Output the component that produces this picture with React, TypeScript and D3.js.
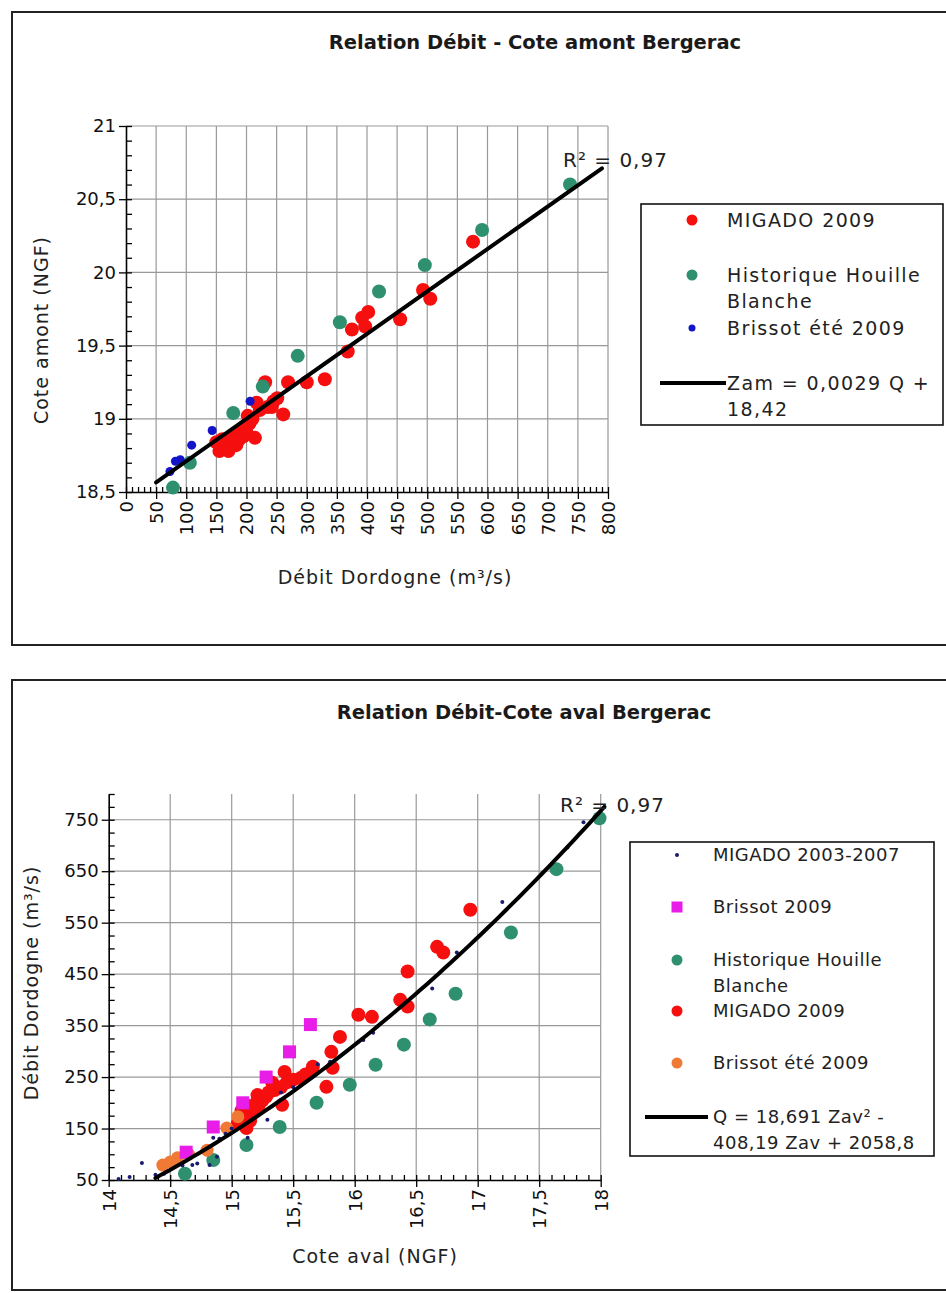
import React, { useEffect, useRef } from 'react';
import * as d3 from 'd3';

// ---- graphique 1 : Débit Dordogne (m3/s) -> Cote amont (NGF)
const amontMigado2009: [number, number][] = [
  [576, 20.21], [493, 19.88], [505, 19.82], [455, 19.68], [402, 19.73], [392, 19.69],
  [397, 19.63], [375, 19.61], [368, 19.46], [330, 19.27], [300, 19.25], [269, 19.25],
  [231, 19.25], [261, 19.03], [251, 19.14], [242, 19.08], [217, 19.11], [214, 18.87],
  [155, 18.78], [158, 18.82], [162, 18.8], [165, 18.85], [168, 18.83], [172, 18.8],
  [175, 18.86], [178, 18.84], [180, 18.88], [183, 18.82], [186, 18.9], [188, 18.86],
  [192, 18.92], [195, 18.88], [198, 18.95], [200, 18.91], [205, 18.97], [210, 19.0],
  [170, 18.78], [160, 18.86], [185, 18.85], [202, 19.02], [222, 19.06], [235, 19.08],
  [245, 19.12], [150, 18.84],
];
const amontHistorique: [number, number][] = [
  [737, 20.6], [591, 20.29], [496, 20.05], [420, 19.87], [355, 19.66], [285, 19.43],
  [227, 19.22], [178, 19.04], [106, 18.7], [78, 18.53],
];
const amontBrissotEte: [number, number][] = [
  [206, 19.12], [143, 18.92], [109, 18.82], [90, 18.72], [82, 18.71], [73, 18.64],
];
const amontXTicks = [0, 50, 100, 150, 200, 250, 300, 350, 400, 450, 500, 550, 600, 650, 700, 750, 800];
const amontYTicks = [18.5, 19, 19.5, 20, 20.5, 21];
const amontFit = { a: 0.0029, b: 18.42, from: 50, to: 790 };

// ---- graphique 2 : Cote aval (NGF) -> Débit Dordogne (m3/s)
const avalMigado0307: [number, number][] = [
  [14.08, 52], [14.17, 56], [14.27, 83], [14.38, 60], [14.45, 62], [14.68, 79], [14.72, 82],
  [14.82, 79], [14.88, 95], [14.85, 132], [14.9, 130], [14.95, 140], [15.13, 132], [15.29, 167],
  [15.5, 230], [15.7, 275], [16.07, 322], [16.15, 336], [16.63, 422], [16.83, 492], [17.2, 590],
  [17.73, 696], [17.86, 745], [14.6, 78], [15.0, 150], [15.4, 220], [15.8, 280],
];
const avalBrissot2009: [number, number][] = [
  [15.64, 352], [15.47, 299], [15.28, 250], [15.09, 200], [14.85, 153], [14.63, 104],
];
const avalHistorique: [number, number][] = [
  [17.99, 753], [17.64, 654], [17.27, 531], [16.82, 412], [16.61, 362], [16.4, 313],
  [16.17, 274], [15.96, 235], [15.69, 200], [15.39, 153], [15.12, 118], [14.85, 89], [14.62, 62],
];
const avalMigado2009: [number, number][] = [
  [16.94, 575], [16.67, 503], [16.72, 492], [16.43, 455], [16.37, 400], [16.43, 387],
  [16.03, 371], [16.14, 367], [15.88, 328], [15.81, 299], [15.66, 270], [15.56, 248],
  [15.43, 260], [15.82, 268], [15.77, 231], [15.33, 239], [15.41, 196], [15.21, 215],
  [15.12, 151], [15.1, 173], [15.05, 160], [15.08, 168], [15.1, 180], [15.13, 175],
  [15.15, 190], [15.18, 185], [15.2, 200], [15.22, 195], [15.25, 205], [15.28, 212],
  [15.3, 220], [15.35, 225], [15.4, 230], [15.45, 240], [15.5, 245], [15.15, 165],
  [15.08, 185], [15.12, 195], [15.6, 255], [15.65, 262],
];
const avalBrissotEte: [number, number][] = [
  [14.44, 79], [14.56, 93], [14.8, 108], [14.96, 151], [15.05, 173], [14.5, 85], [14.65, 100],
];
const avalXTicks = [14, 14.5, 15, 15.5, 16, 16.5, 17, 17.5, 18];
const avalYTicks = [50, 150, 250, 350, 450, 550, 650, 750];
const avalFit = { a: 18.691, b: -408.19, c: 2058.8, from: 14.38, to: 18.05 };

const FONT = 'DejaVu Sans';
const fmt = (v: number) => String(v).replace('.', ',');

function drawPanel(svg: any, cfg: any) {
  const g = svg.append('g');

  g.append('rect')
    .attr('x', cfg.frame[0]).attr('y', cfg.frame[1])
    .attr('width', cfg.frame[2]).attr('height', cfg.frame[3])
    .attr('fill', 'white').attr('stroke', '#222').attr('stroke-width', 2);

  g.append('text')
    .attr('x', cfg.titlePos[0]).attr('y', cfg.titlePos[1])
    .attr('text-anchor', 'middle')
    .attr('font-family', FONT).attr('font-weight', 'bold').attr('font-size', 19.5)
    .attr('fill', '#1a1a1a')
    .text(cfg.title);

  const x = d3.scaleLinear().domain(cfg.xDomain).range([cfg.left, cfg.right]);
  const y = d3.scaleLinear().domain(cfg.yDomain).range([cfg.bottom, cfg.top]);

  // grille
  g.append('g').selectAll('line').data(cfg.xTicks.slice(1)).join('line')
    .attr('x1', (d: number) => x(d)).attr('x2', (d: number) => x(d))
    .attr('y1', cfg.bottom).attr('y2', cfg.top)
    .attr('stroke', '#999').attr('stroke-width', 1.2);
  g.append('g').selectAll('line').data(cfg.yTicks.slice(1)).join('line')
    .attr('x1', cfg.left).attr('x2', cfg.right)
    .attr('y1', (d: number) => y(d)).attr('y2', (d: number) => y(d))
    .attr('stroke', '#999').attr('stroke-width', 1.2);

  // axes : petites graduations vers l'intérieur
  g.append('g').attr('transform', `translate(0,${cfg.bottom})`)
    .call(d3.axisBottom(x).tickValues(cfg.xMinor).tickSize(-5).tickSizeOuter(0).tickFormat(() => ''))
    .call((s: any) => s.select('.domain').remove());
  g.append('g').attr('transform', `translate(${cfg.left},0)`)
    .call(d3.axisLeft(y).tickValues(cfg.yMinor).tickSize(-6).tickSizeOuter(0).tickFormat(() => ''))
    .call((s: any) => s.select('.domain').remove());

  const xa = g.append('g').attr('transform', `translate(0,${cfg.bottom})`)
    .call(d3.axisBottom(x).tickValues(cfg.xTicks).tickSize(7).tickSizeOuter(0).tickFormat(fmt));
  xa.selectAll('text')
    .attr('transform', 'rotate(-90)').attr('text-anchor', 'end')
    .attr('x', -9).attr('y', 0).attr('dy', '0.36em')
    .attr('font-family', FONT).attr('font-size', 18).attr('fill', '#111');

  const ya = g.append('g').attr('transform', `translate(${cfg.left},0)`)
    .call(d3.axisLeft(y).tickValues(cfg.yTicks).tickSize(7).tickSizeOuter(0).tickFormat(fmt));
  ya.selectAll('text')
    .attr('x', -10)
    .attr('font-family', FONT).attr('font-size', 18).attr('fill', '#111');

  [xa, ya].forEach((a: any) => {
    a.select('.domain').attr('stroke', '#000').attr('stroke-width', 1.6);
  });
  g.selectAll('.tick line').attr('stroke', '#000').attr('stroke-width', 1.3);

  // titres des axes
  g.append('text')
    .attr('x', cfg.xLabelPos[0]).attr('y', cfg.xLabelPos[1])
    .attr('text-anchor', 'middle').attr('font-family', FONT).attr('font-size', 19)
    .attr('letter-spacing', 1).attr('fill', '#222')
    .text(cfg.xLabel);
  g.append('text')
    .attr('transform', `translate(${cfg.yLabelPos[0]},${cfg.yLabelPos[1]}) rotate(-90)`)
    .attr('text-anchor', 'middle').attr('font-family', FONT).attr('font-size', 19)
    .attr('letter-spacing', 1).attr('fill', '#222')
    .text(cfg.yLabel);

  // séries
  cfg.series.forEach((s: any) => {
    const sg = g.append('g');
    if (s.shape === 'square') {
      sg.selectAll('rect').data(s.data).join('rect')
        .attr('x', (d: number[]) => x(d[0]) - s.size / 2)
        .attr('y', (d: number[]) => y(d[1]) - s.size / 2)
        .attr('width', s.size).attr('height', s.size)
        .attr('fill', s.color);
    } else {
      sg.selectAll('circle').data(s.data).join('circle')
        .attr('cx', (d: number[]) => x(d[0])).attr('cy', (d: number[]) => y(d[1]))
        .attr('r', s.size).attr('fill', s.color);
    }
  });

  // courbe de tendance
  const line = d3.line<number[]>().x(d => x(d[0])).y(d => y(d[1]));
  g.append('path').datum(cfg.fitPoints)
    .attr('d', line).attr('fill', 'none')
    .attr('stroke', '#000').attr('stroke-width', 4).attr('stroke-linecap', 'round');

  g.append('text')
    .attr('x', cfg.r2Pos[0]).attr('y', cfg.r2Pos[1])
    .attr('font-family', FONT).attr('font-size', 20).attr('letter-spacing', 1).attr('fill', '#222')
    .text('R² = 0,97');

  // légende
  const L = cfg.legend;
  g.append('rect')
    .attr('x', L.box[0]).attr('y', L.box[1]).attr('width', L.box[2]).attr('height', L.box[3])
    .attr('fill', 'white').attr('stroke', '#111').attr('stroke-width', 1.6);
  L.items.forEach((it: any) => {
    if (it.shape === 'line') {
      g.append('line')
        .attr('x1', L.lineX[0]).attr('x2', L.lineX[1]).attr('y1', it.y).attr('y2', it.y)
        .attr('stroke', '#000').attr('stroke-width', 4);
    } else if (it.shape === 'square') {
      g.append('rect')
        .attr('x', L.symX - it.size / 2).attr('y', it.y - it.size / 2)
        .attr('width', it.size).attr('height', it.size).attr('fill', it.color);
    } else {
      g.append('circle').attr('cx', L.symX).attr('cy', it.y).attr('r', it.size).attr('fill', it.color);
    }
    const t = g.append('text')
      .attr('x', L.textX).attr('y', it.y)
      .attr('font-family', FONT).attr('font-size', L.fontSize).attr('letter-spacing', L.spacing)
      .attr('fill', '#222');
    it.label.forEach((ln: string, i: number) => {
      t.append('tspan').attr('x', L.textX).attr('dy', i === 0 ? '0.36em' : 26).text(ln);
    });
  });
}

const RED = '#f50f0f';
const TEAL = '#2f9070';
const BLUE = '#1414c8';
const NAVY = '#1a1a70';
const MAGENTA = '#e81ee8';
const ORANGE = '#f07a35';

const App = () => {
  const svgRef = useRef<SVGSVGElement>(null);

  useEffect(() => {
    const svg = d3.select(svgRef.current);
    svg.selectAll('*').remove();

    drawPanel(svg, {
      frame: [12, 12, 944, 633],
      title: 'Relation Débit - Cote amont Bergerac',
      titlePos: [535, 49],
      left: 126, right: 608, top: 126, bottom: 492,
      xDomain: [0, 800], yDomain: [18.5, 21],
      xTicks: amontXTicks, yTicks: amontYTicks,
      xMinor: d3.range(0, 801, 10), yMinor: d3.range(18.5, 21.001, 0.1),
      xLabel: 'Débit Dordogne (m³/s)', xLabelPos: [395, 584],
      yLabel: 'Cote amont (NGF)', yLabelPos: [48, 330],
      r2Pos: [563, 167],
      series: [
        { data: amontMigado2009, color: RED, size: 7 },
        { data: amontHistorique, color: TEAL, size: 7 },
        { data: amontBrissotEte, color: BLUE, size: 4.5 },
      ],
      fitPoints: [amontFit.from, amontFit.to].map(q => [q, amontFit.a * q + amontFit.b]),
      legend: {
        box: [641, 204, 302, 221], symX: 692, textX: 727, lineX: [660, 726],
        fontSize: 19, spacing: 1.4,
        items: [
          { label: ['MIGADO 2009'], y: 220, color: RED, size: 5.5 },
          { label: ['Historique Houille', 'Blanche'], y: 275, color: TEAL, size: 5.5 },
          { label: ['Brissot été 2009'], y: 328, color: BLUE, size: 3.5 },
          { label: ['Zam = 0,0029 Q +', '18,42'], y: 383, shape: 'line' },
        ],
      },
    });

    drawPanel(svg, {
      frame: [12, 680, 944, 610],
      title: 'Relation Débit-Cote aval Bergerac',
      titlePos: [524, 719],
      left: 108.7, right: 600.7, top: 794, bottom: 1180,
      xDomain: [14, 18], yDomain: [50, 800],
      xTicks: avalXTicks, yTicks: avalYTicks,
      xMinor: d3.range(14, 18.001, 0.1), yMinor: d3.range(50, 801, 25),
      xLabel: 'Cote aval (NGF)', xLabelPos: [375, 1263],
      yLabel: 'Débit Dordogne (m³/s)', yLabelPos: [38, 983],
      r2Pos: [560, 812],
      series: [
        { data: avalHistorique, color: TEAL, size: 7 },
        { data: avalMigado2009, color: RED, size: 7 },
        { data: avalBrissotEte, color: ORANGE, size: 6.5 },
        { data: avalBrissot2009, color: MAGENTA, size: 13, shape: 'square' },
        { data: avalMigado0307, color: NAVY, size: 2 },
      ],
      fitPoints: d3.range(avalFit.from, avalFit.to + 0.001, 0.05)
        .map(z => [z, avalFit.a * z * z + avalFit.b * z + avalFit.c]),
      legend: {
        box: [630, 842, 304, 314], symX: 677, textX: 713, lineX: [645, 708],
        fontSize: 18, spacing: 0.5,
        items: [
          { label: ['MIGADO 2003-2007'], y: 855, color: NAVY, size: 2 },
          { label: ['Brissot 2009'], y: 907, color: MAGENTA, size: 11, shape: 'square' },
          { label: ['Historique Houille', 'Blanche'], y: 960, color: TEAL, size: 5.5 },
          { label: ['MIGADO 2009'], y: 1011, color: RED, size: 5.5 },
          { label: ['Brissot été 2009'], y: 1063, color: ORANGE, size: 5.5 },
          { label: ['Q = 18,691 Zav² -', '408,19 Zav + 2058,8'], y: 1117, shape: 'line' },
        ],
      },
    });
  }, []);

  return (
    <svg
      ref={svgRef}
      width={946}
      height={1293}
      style={{ position: 'absolute', left: 0, top: 0, background: 'white' }}
    />
  );
};

export default App;
